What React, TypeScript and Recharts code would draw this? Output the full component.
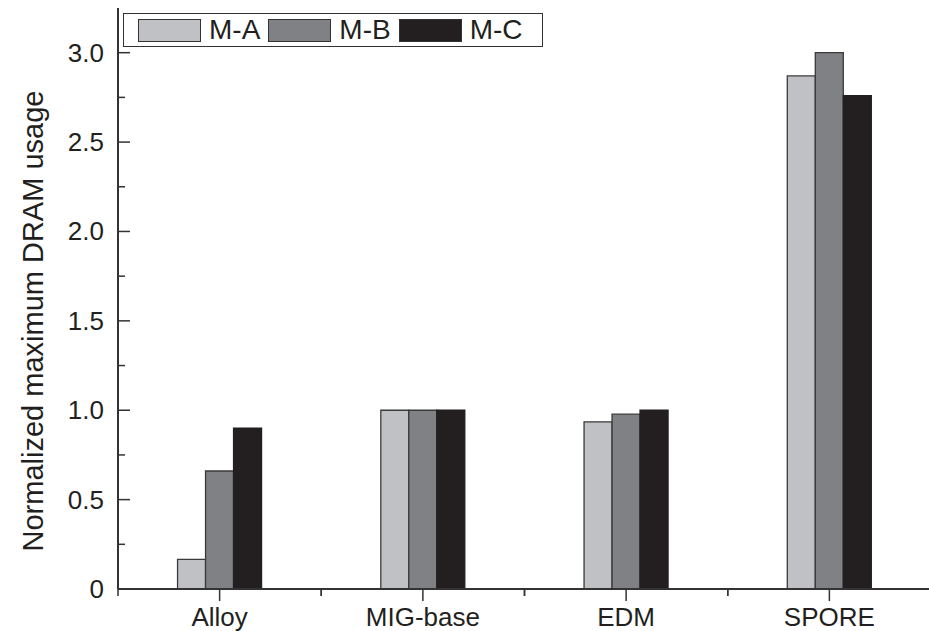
import React from "react";
import { BarChart, Bar, XAxis, YAxis } from "recharts";

const categories = ["Alloy", "MIG-base", "EDM", "SPORE"];
const seriesMA = [0.166, 1.0, 0.935, 2.87];
const seriesMB = [0.66, 1.0, 0.978, 3.0];
const seriesMC = [0.9, 1.0, 1.0, 2.76];
const seriesNames = ["M-A", "M-B", "M-C"] as const;
const yTicks = [0, 0.25, 0.5, 0.75, 1.0, 1.25, 1.5, 1.75, 2.0, 2.25, 2.5, 2.75, 3.0, 3.25];
const yMajorLabels: Record<string, string> = { "0": "0", "0.5": "0.5", "1": "1.0", "1.5": "1.5", "2": "2.0", "2.5": "2.5", "3": "3.0" };

const data = categories.map((c, i) => ({ name: c, "M-A": seriesMA[i], "M-B": seriesMB[i], "M-C": seriesMC[i] }));

const W = 931;
const H = 631;
const M = { top: 8, right: 0, left: 0, bottom: 0 };
const YW = 118;
const XH = 42;
const plotW = W - M.left - M.right - YW;
const band = plotW / categories.length;

const FONT = "'Liberation Sans', Arial, sans-serif";
const TXT = "#231f20";
const AX = "#333";

const colors: Record<string, string> = { "M-A": "#c0c1c4", "M-B": "#808185", "M-C": "#231f20" };

const YTick = (props: any) => {
  const { x, y, payload } = props;
  const v = payload.value;
  const major = Math.abs(v * 2 - Math.round(v * 2)) < 1e-6;
  const label = yMajorLabels[String(v)];
  if (v > 3.1) return null;
  return (
    <g>
      <line x1={x} x2={x + (major ? 12 : 7)} y1={y} y2={y} stroke={AX} strokeWidth={1.5} />
      {label !== undefined && (
        <text x={x - 14} y={y} dy={9} textAnchor="end" fontSize={26} fontFamily={FONT} fill={TXT}>
          {label}
        </text>
      )}
    </g>
  );
};

const XTick = (props: any) => {
  const { x, y, payload } = props;
  return (
    <g>
      <line x1={x} x2={x} y1={y} y2={y + 12} stroke={AX} strokeWidth={1.5} />
      <line x1={x - band / 2} x2={x - band / 2} y1={y} y2={y + 7} stroke={AX} strokeWidth={1.5} />
      <line x1={x + band / 2} x2={x + band / 2} y1={y} y2={y + 7} stroke={AX} strokeWidth={1.5} />
      <text x={x} y={y} dy={37} textAnchor="middle" fontSize={26} fontFamily={FONT} fill={TXT}>
        {payload.value}
      </text>
    </g>
  );
};

const TopTick = (props: any) => {
  const { x, y } = props;
  return (
    <g>
      <line x1={x} x2={x} y1={y} y2={y + 7} stroke={AX} strokeWidth={1.5} />
      <line x1={x - band / 2} x2={x - band / 2} y1={y} y2={y + 5} stroke={AX} strokeWidth={1.5} />
    </g>
  );
};

const LegendBox = () => (
  <div
    style={{
      position: "absolute",
      left: 123,
      top: 13,
      display: "flex",
      alignItems: "center",
      border: `1.5px solid ${AX}`,
      height: 34,
      width: 420,
      boxSizing: "border-box",
      paddingLeft: 14,
      fontFamily: FONT,
      fontSize: 28,
      lineHeight: "28px",
      color: TXT,
      background: "#fff",
    }}
  >
    {seriesNames.map((k) => (
      <div key={k} style={{ display: "flex", alignItems: "center", marginRight: 8 }}>
        <div style={{ width: 63, height: 23, background: colors[k], border: "1.5px solid #333", boxSizing: "border-box", marginRight: 8 }} />
        <span>{k}</span>
      </div>
    ))}
  </div>
);

export default function App() {
  return (
    <div style={{ position: "absolute", left: 0, top: 0, width: 929, height: 631, overflow: "hidden", background: "#fff" }}>
      <BarChart width={W} height={H} data={data} margin={M} barCategoryGap="29.3%" barGap={0}>
        <XAxis
          dataKey="name"
          xAxisId="bottom"
          orientation="bottom"
          height={XH}
          tickSize={0}
          tickMargin={0}
          tickLine={false}
          axisLine={{ stroke: AX, strokeWidth: 2 }}
          tick={<XTick />}
          interval={0}
        />
        <XAxis
          dataKey="name"
          xAxisId="top"
          orientation="top"
          height={0}
          tickSize={0}
          tickMargin={0}
          tickLine={false}
          axisLine={{ stroke: AX, strokeWidth: 2 }}
          tick={<TopTick />}
          interval={0}
        />
        <YAxis
          width={YW}
          domain={[0, 3.25]}
          ticks={yTicks}
          interval={0}
          tickSize={0}
          tickMargin={0}
          tickLine={false}
          axisLine={{ stroke: AX, strokeWidth: 2 }}
          tick={<YTick />}
          label={{
            content: () => (
              <text
                x={43}
                y={321}
                transform="rotate(-90 43 321)"
                textAnchor="middle"
                fontSize={29}
                fontFamily={FONT}
                fill={TXT}
              >
                Normalized maximum DRAM usage
              </text>
            ),
          }}
        />
        {seriesNames.map((k) => (
          <Bar
            key={k}
            dataKey={k}
            xAxisId="bottom"
            fill={colors[k]}
            stroke={k === "M-C" ? "#231f20" : "#3a3a3a"}
            strokeWidth={1.3}
            isAnimationActive={false}
          />
        ))}
      </BarChart>
      <LegendBox />
    </div>
  );
}
